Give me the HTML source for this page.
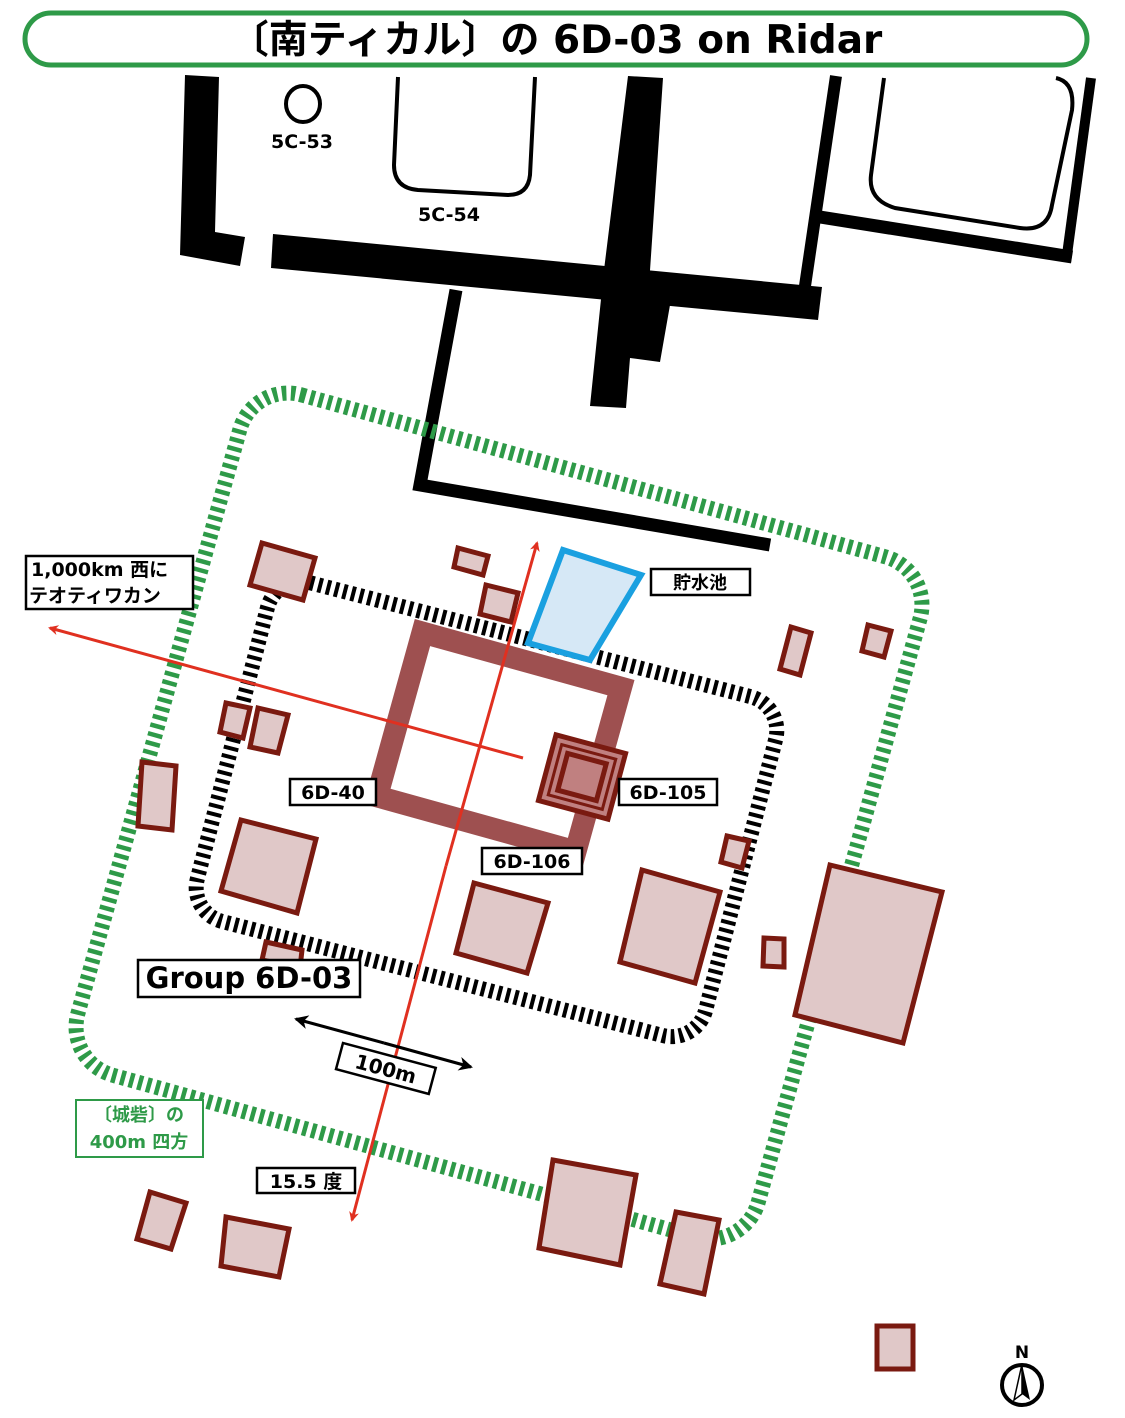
<!DOCTYPE html>
<html><head><meta charset="utf-8"><style>
html,body{margin:0;padding:0;background:#fff}
svg{display:block}
text{font-family:"DejaVu Sans","Liberation Sans","Noto Sans CJK JP",sans-serif}
</style></head><body>
<svg width="1125" height="1418" viewBox="0 0 1125 1418" xmlns="http://www.w3.org/2000/svg">
<defs>
<marker id="ar" markerWidth="10" markerHeight="10" refX="8" refY="5" orient="auto" markerUnits="userSpaceOnUse" viewBox="0 0 10 10"><path d="M0,0 L10,5 L0,10 L3,5 Z" fill="#e03020"/></marker>
<marker id="ab" markerWidth="14" markerHeight="14" refX="12" refY="7" orient="auto" markerUnits="userSpaceOnUse" viewBox="0 0 14 14"><path d="M0,0 L14,7 L0,14 L4,7 Z" fill="#000"/></marker>
</defs>
<rect x="25" y="13" width="1062" height="52" rx="26" fill="#fff" stroke="#2e9a48" stroke-width="5"/>
<text x="556" y="53" font-size="39" font-weight="bold" text-anchor="middle">〔南ティカル〕の 6D-03 on Ridar</text>

<polygon points="185,75 219,77 215,232 245,237 240,266 180,255" fill="#000"/>
<polygon points="273,234 822,287 818,320 271,268" fill="#000"/>
<polygon points="628,76 663,78 648,300 670,305 660,362 630,358 626,408 590,406 604,270" fill="#000"/>
<polyline points="456,290 420,485 770,545" fill="none" stroke="#000" stroke-width="13"/>
<line x1="836" y1="76" x2="805" y2="286" stroke="#000" stroke-width="12"/>
<line x1="1091" y1="78" x2="1066" y2="262" stroke="#000" stroke-width="10"/>
<line x1="820" y1="217" x2="1072" y2="257" stroke="#000" stroke-width="13"/>
<path d="M398,77 L394,165 Q394,188 418,190 L508,195 Q528,195 530,175 L535,77" fill="none" stroke="#000" stroke-width="4"/>
<path d="M884,78 L871,175 Q868,200 895,208 L1020,228 Q1048,232 1052,205 L1072,110 Q1075,82 1056,78" fill="none" stroke="#000" stroke-width="4"/>
<ellipse cx="303" cy="104" rx="17" ry="18" fill="none" stroke="#000" stroke-width="4"/>
<text x="302" y="148" font-size="19" font-weight="bold" text-anchor="middle">5C-53</text>
<text x="449" y="221" font-size="19" font-weight="bold" text-anchor="middle">5C-54</text>

<rect x="146" y="463" width="706" height="706" rx="50" transform="rotate(15.5 499 816)" fill="none" stroke="#2e9a48" stroke-width="15" stroke-dasharray="4.5 4.5"/>
<rect x="224" y="634" width="525" height="350" rx="35" transform="rotate(14.5 486 809)" fill="none" stroke="#000" stroke-width="15" stroke-dasharray="4 4.5"/>

<g fill="#e0c8c8" stroke="#7a1a10" stroke-width="5">
<polygon points="262,543 315,558 303,600 250,585"/>
<polygon points="458,548 488,556 483,575 454,567"/>
<polygon points="486,585 518,593 511,622 480,614"/>
<polygon points="791,627 811,633 800,675 780,669"/>
<polygon points="868,625 891,631 884,657 862,651"/>
<polygon points="226,703 250,708 243,738 220,732"/>
<polygon points="258,708 288,715 278,753 250,747"/>
<polygon points="142,762 176,766 172,830 138,826"/>
<polygon points="241,820 316,839 297,913 221,891"/>
<polygon points="266,942 302,950 300,968 262,960"/>
<polygon points="474,883 548,903 527,973 456,953"/>
<polygon points="642,870 720,892 695,983 620,962"/>
<polygon points="727,836 749,841 742,868 721,862"/>
<polygon points="764,938 784,939 784,967 763,966"/>
<polygon points="830,865 942,892 903,1043 795,1015"/>
<polygon points="150,1192 186,1203 171,1249 137,1239"/>
<polygon points="226,1217 289,1229 279,1277 221,1266"/>
<polygon points="553,1160 636,1175 620,1265 539,1248"/>
<polygon points="676,1212 719,1220 704,1294 660,1284"/>
<polygon points="877,1326 913,1326 913,1369 877,1369"/>
</g>

<rect x="396" y="657" width="206" height="170" transform="rotate(15.5 499 742)" fill="none" stroke="#9e5050" stroke-width="22"/>
<g transform="rotate(15 582 777)">
<rect x="546" y="743" width="72" height="68" fill="#c08080" stroke="#7a1a10" stroke-width="5"/>
<rect x="554" y="751" width="56" height="52" fill="none" stroke="#7a1a10" stroke-width="3"/>
<rect x="562" y="758" width="40" height="38" fill="none" stroke="#7a1a10" stroke-width="5"/>
</g>

<polygon points="563,550 641,575 590,660 528,643" fill="#d6e8f6" stroke="#1aa0e0" stroke-width="6"/>

<line x1="446" y1="866" x2="537" y2="543" stroke="#e03020" stroke-width="3" marker-end="url(#ar)"/>
<line x1="446" y1="866" x2="352" y2="1220" stroke="#e03020" stroke-width="3" marker-end="url(#ar)"/>
<line x1="523" y1="758" x2="50" y2="628" stroke="#e03020" stroke-width="3" marker-end="url(#ar)"/>

<line x1="384" y1="1043" x2="296" y2="1019" stroke="#000" stroke-width="3" marker-end="url(#ab)"/>
<line x1="384" y1="1043" x2="471" y2="1067" stroke="#000" stroke-width="3" marker-end="url(#ab)"/>

<g font-weight="bold" fill="#000">
<rect x="26" y="556" width="167" height="53" fill="#fff" stroke="#000" stroke-width="2.5"/>
<text x="31" y="576" font-size="19">1,000km 西に</text>
<text x="29" y="602" font-size="19">テオティワカン</text>
<rect x="651" y="569" width="99" height="26" fill="#fff" stroke="#000" stroke-width="2.5"/>
<text x="700" y="589" font-size="18" text-anchor="middle">貯水池</text>
<rect x="290" y="779" width="86" height="26" fill="#fff" stroke="#000" stroke-width="2.5"/>
<text x="333" y="799" font-size="19" text-anchor="middle">6D-40</text>
<rect x="619" y="779" width="98" height="26" fill="#fff" stroke="#000" stroke-width="2.5"/>
<text x="668" y="799" font-size="19" text-anchor="middle">6D-105</text>
<rect x="482" y="848" width="100" height="26" fill="#fff" stroke="#000" stroke-width="2.5"/>
<text x="532" y="868" font-size="19" text-anchor="middle">6D-106</text>
<rect x="138" y="960" width="222" height="37" fill="#fff" stroke="#000" stroke-width="2.5"/>
<text x="249" y="988" font-size="29" text-anchor="middle">Group 6D-03</text>
<g transform="rotate(15 386 1068)">
<rect x="338" y="1055" width="96" height="27" fill="#fff" stroke="#000" stroke-width="2.5"/>
<text x="386" y="1076" font-size="20" text-anchor="middle">100m</text>
</g>
<rect x="257" y="1168" width="98" height="25" fill="#fff" stroke="#000" stroke-width="2.5"/>
<text x="306" y="1188" font-size="19" text-anchor="middle">15.5 度</text>
<rect x="76" y="1100" width="127" height="57" fill="#fff" stroke="#2e9a48" stroke-width="2"/>
<text x="139" y="1121" font-size="18" fill="#2e9a48" text-anchor="middle">〔城砦〕の</text>
<text x="139" y="1148" font-size="18" fill="#2e9a48" text-anchor="middle">400m 四方</text>
</g>

<text x="1022" y="1358" font-size="17" font-weight="bold" text-anchor="middle">N</text>
<circle cx="1022" cy="1385" r="20" fill="#fff" stroke="#000" stroke-width="4"/>
<polygon points="1022,1364 1014,1400 1022,1394" fill="#fff" stroke="#000" stroke-width="1.5"/>
<polygon points="1022,1364 1030,1400 1022,1394" fill="#000"/>
</svg>
</body></html>
